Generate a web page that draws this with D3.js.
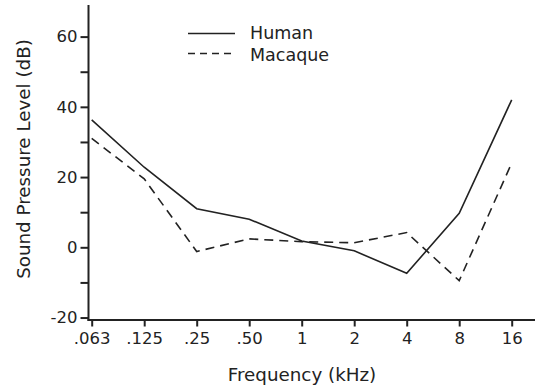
<!DOCTYPE html>
<html>
<head>
<meta charset="utf-8">
<script src="https://cdn.jsdelivr.net/npm/d3@7"></script>
<style>
  body { margin: 0; background: #fff; }
  svg { display: block; font-family: "DejaVu Sans", Verdana, sans-serif; }
</style>
</head>
<body>
<div id="chart-area"></div>
<script>
// Data
var freqs = [".063", ".125", ".25", ".50", "1", "2", "4", "8", "16"];
var human = [36.3, 22.8, 11, 8, 1.8, -1, -7.4, 9.7, 42];
var macaque = [31, 19.5, -1.2, 2.4, 1.6, 1.3, 4.2, -9.5, 24];
var yTicks = [-20, -10, 0, 10, 20, 30, 40, 50, 60];
var seriesNames = ["Human", "Macaque"];

var width = 535, height = 390;
var ink = "#222";

var svg = d3.select("#chart-area")
  .append("svg")
    .attr("width", width)
    .attr("height", height)

// Scales
var x = d3.scalePoint()
  .domain(freqs)
  .range([91.7, 511.7])

var y = d3.scaleLinear()
  .domain([-20.7, 69])
  .range([320, 5])

// Y axis
var yAxisCall = d3.axisLeft(y)
  .tickValues(yTicks)
  .tickSize(8)
  .tickPadding(3)
  .tickFormat((v) => { return v % 20 === 0 ? v : ""; });

var yAxisGroup = svg.append("g")
  .attr("transform", "translate(88.5, 0)")
  .call(yAxisCall)

yAxisGroup.select(".domain")
  .attr("d", "M0," + y.range()[1] + "V" + (y.range()[0] + 1))

// X axis
var xAxisCall = d3.axisBottom(x)
  .tickSize(6.5)
  .tickPadding(5.5)

var xAxisGroup = svg.append("g")
  .attr("transform", "translate(0, 320)")
  .call(xAxisCall)

xAxisGroup.select(".domain")
  .attr("d", "M87.5,0H535")

svg.selectAll(".domain, .tick line")
  .attr("stroke", ink)
  .attr("stroke-width", 2)

svg.selectAll(".tick text")
  .attr("fill", ink)
  .attr("font-size", "16.5px")
  .attr("font-family", "DejaVu Sans, Verdana, sans-serif")

// Lines
var line = d3.line()
  .x((d, i) => { return x(freqs[i]); })
  .y((d) => { return y(d); })

svg.append("path")
  .attr("d", line(human))
  .attr("fill", "none")
  .attr("stroke", ink)
  .attr("stroke-width", 1.6)

svg.append("path")
  .attr("d", line(macaque))
  .attr("fill", "none")
  .attr("stroke", ink)
  .attr("stroke-width", 1.6)
  .attr("stroke-dasharray", "9,6")

// Legend
var legend = svg.selectAll(".legend")
  .data(seriesNames)
  .enter()
  .append("g")
    .attr("class", "legend")
    .attr("transform", (d, i) => { return "translate(188, " + (33.5 + i * 20) + ")"; })

legend.append("line")
  .attr("x1", 0)
  .attr("x2", 47)
  .attr("stroke", ink)
  .attr("stroke-width", 1.6)
  .attr("stroke-dasharray", (d, i) => { return i === 0 ? null : "7,5"; })

legend.append("text")
  .attr("x", 62)
  .attr("y", (d, i) => { return i === 0 ? 5 : 7; })
  .attr("font-size", "17.5px")
  .attr("fill", ink)
  .text((d) => { return d; })

// X Label Name
svg.append("text")
  .attr("x", 302)
  .attr("y", 381)
  .attr("font-size", "18.3px")
  .attr("fill", ink)
  .attr("text-anchor", "middle")
  .text("Frequency (kHz)");

// Y Label Name
svg.append("text")
  .attr("x", -159)
  .attr("y", 30)
  .attr("font-size", "18.3px")
  .attr("fill", ink)
  .attr("text-anchor", "middle")
  .attr("transform", "rotate(-90)")
  .text("Sound Pressure Level (dB)");
</script>
</body>
</html>
